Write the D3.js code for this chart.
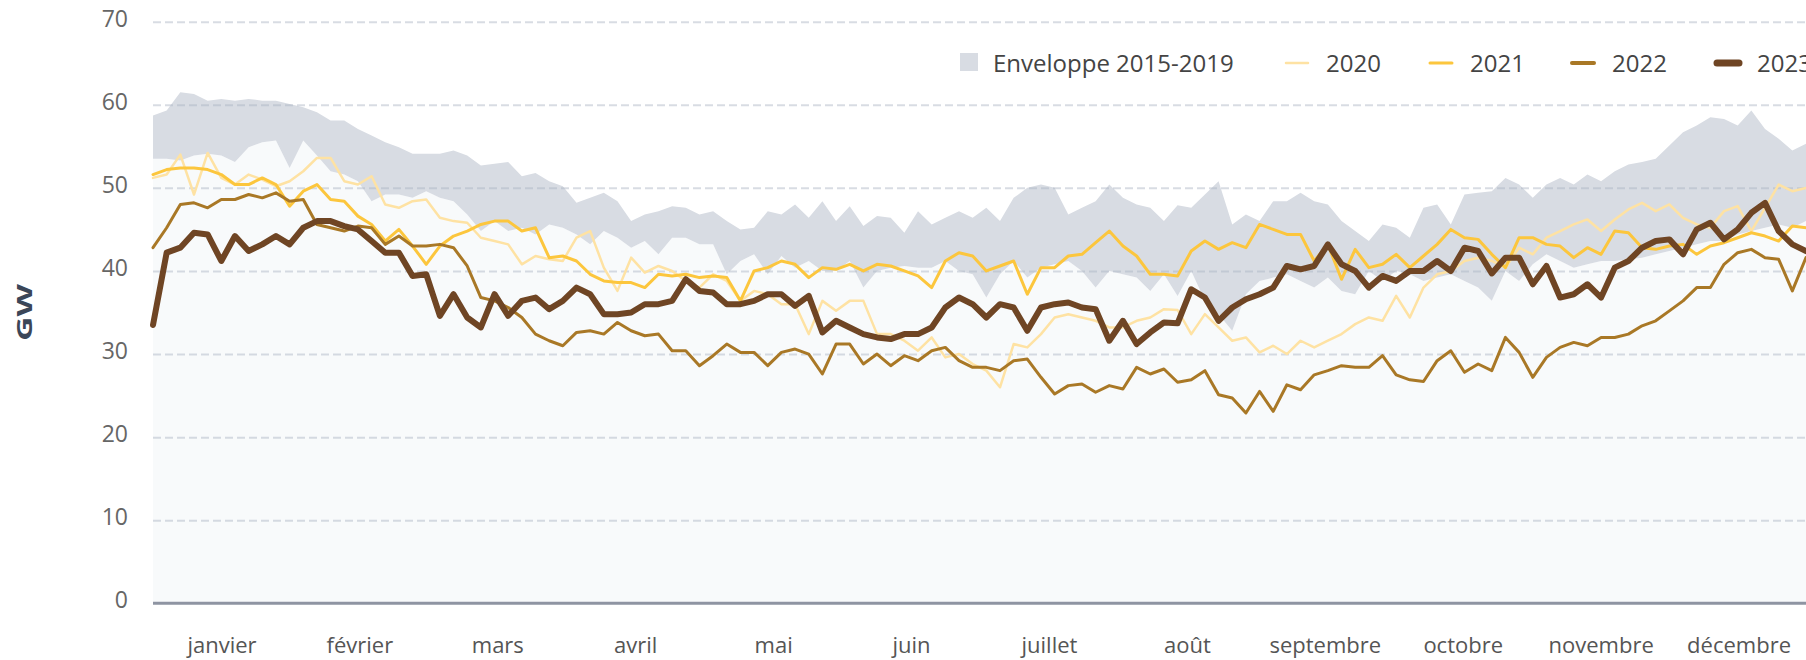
<!DOCTYPE html>
<html>
<head>
<meta charset="utf-8">
<script src="https://cdn.jsdelivr.net/npm/d3@7"></script>
<style>
  body { margin: 0; background: #fff; }
  svg { display: block; font-family: "Open Sans", sans-serif; }
</style>
</head>
<body>
<div id="chart"></div>
<script>
// Mois (axe X) et graduations (axe Y)
const months = ["janvier", "février", "mars", "avril", "mai", "juin",
  "juillet", "août", "septembre", "octobre", "novembre", "décembre"];
const yTicks = [0, 10, 20, 30, 40, 50, 60, 70];

// Une lecture tous les 3 jours (jour 0 = 1er janvier)
const dayStep = 3;

// Enveloppe 2015-2019 : minimum et maximum (GW)
const envMin = [
  53.5, 53.5, 53.3, 53.9, 54.1, 53.9, 53.1, 54.9, 55.5, 55.7,
  52.4, 55.7, 53.9, 52.0, 51.6, 50.8, 48.4, 49.2, 49.2, 48.8,
  49.6, 48.8, 48.4, 46.8, 44.8, 46.0, 44.8, 45.2, 44.4, 45.6,
  45.2, 44.4, 43.2, 44.8, 44.0, 42.8, 43.6, 42.0, 44.0, 44.0,
  43.2, 43.2, 39.6, 41.2, 42.0, 39.6, 41.8, 40.4, 41.2, 40.0,
  40.0, 41.2, 38.0, 40.0, 40.4, 40.6, 40.4, 40.4, 41.2, 40.0,
  39.6, 36.8, 39.6, 41.2, 39.2, 40.4, 40.8, 41.2, 40.0, 38.0,
  40.0, 39.6, 39.2, 37.6, 39.6, 37.0, 40.0, 36.4, 34.8, 32.8,
  37.2, 38.8, 39.2, 39.6, 38.8, 38.0, 39.2, 37.6, 37.2, 40.0,
  38.8, 40.0, 39.6, 38.8, 39.2, 39.6, 38.8, 38.0, 36.4, 40.0,
  38.8, 40.8, 42.0, 41.2, 40.4, 40.8, 41.2, 41.2, 41.4, 41.6,
  42.0, 42.4, 42.8, 43.2, 43.6, 43.6, 44.4, 44.8, 45.2, 45.6,
  45.2, 46.0
];
const envMax = [
  58.7, 59.3, 61.5, 61.3, 60.5, 60.7, 60.5, 60.7, 60.5, 60.5,
  60.1, 59.7, 59.1, 58.1, 58.1, 57.1, 56.3, 55.5, 54.9, 54.1,
  54.1, 54.1, 54.5, 53.9, 52.7, 52.9, 53.1, 51.4, 51.8, 50.8,
  50.2, 48.2, 48.8, 49.4, 48.4, 46.0, 46.8, 47.2, 47.8, 47.6,
  46.8, 47.2, 46.0, 45.0, 45.2, 47.2, 46.8, 48.0, 46.4, 48.4,
  46.0, 47.8, 45.4, 46.6, 46.4, 44.6, 47.2, 45.6, 46.4, 47.2,
  46.4, 47.6, 46.0, 48.8, 50.0, 50.4, 50.0, 46.8, 47.6, 48.4,
  50.4, 48.8, 48.0, 47.6, 46.0, 47.9, 47.6, 49.2, 50.8, 45.6,
  46.8, 46.0, 48.4, 48.4, 49.4, 48.4, 48.0, 46.0, 44.8, 43.6,
  45.6, 45.2, 44.0, 47.6, 48.0, 45.6, 49.2, 49.4, 49.6, 51.2,
  50.4, 48.8, 50.4, 51.2, 50.4, 51.6, 50.8, 52.0, 52.8, 53.1,
  53.5, 55.1, 56.7, 57.5, 58.5, 58.3, 57.5, 59.3, 57.1, 55.9,
  54.5, 55.3
];

// Années
const values2020 = [
  51.2, 51.6, 54.0, 49.2, 54.2, 51.2, 50.4, 51.6, 51.0, 50.2,
  50.8, 52.0, 53.6, 53.6, 50.8, 50.4, 51.4, 48.0, 47.6, 48.4,
  48.6, 46.4, 46.0, 45.8, 44.0, 43.6, 43.2, 40.8, 41.8, 41.4,
  41.2, 44.0, 44.8, 40.4, 37.6, 41.6, 39.8, 40.6, 40.0, 38.8,
  38.0, 39.6, 38.8, 36.4, 37.6, 37.2, 36.0, 36.0, 32.4, 36.4,
  35.2, 36.4, 36.4, 32.4, 32.4, 31.6, 30.4, 32.0, 29.6, 30.0,
  28.8, 28.0, 26.0, 31.2, 30.8, 32.4, 34.4, 34.8, 34.4, 34.0,
  33.2, 33.2, 34.0, 34.4, 35.4, 35.3, 32.4, 34.8, 33.2, 31.6,
  32.0, 30.2, 31.0, 30.0, 31.6, 30.8, 31.6, 32.4, 33.6, 34.4,
  34.0, 37.0, 34.4, 38.0, 39.6, 40.0, 41.2, 41.6, 41.2, 40.4,
  42.8, 42.0, 44.0, 44.8, 45.6, 46.2, 44.8, 46.2, 47.4, 48.2,
  47.2, 48.0, 46.4, 45.6, 45.2, 47.2, 47.8, 44.8, 47.6, 50.4,
  49.6, 50.0
];
const values2021 = [
  51.6, 52.2, 52.4, 52.4, 52.2, 51.6, 50.4, 50.4, 51.2, 50.4,
  47.8, 49.6, 50.4, 48.6, 48.4, 46.6, 45.6, 43.6, 45.0, 43.0,
  40.8, 43.0, 44.2, 44.8, 45.6, 46.0, 46.0, 44.8, 45.2, 41.6,
  41.8, 41.2, 39.6, 38.8, 38.6, 38.6, 38.0, 39.6, 39.4, 39.6,
  39.2, 39.4, 39.2, 36.4, 40.0, 40.4, 41.2, 40.8, 39.2, 40.4,
  40.2, 40.8, 40.0, 40.8, 40.6, 40.0, 39.4, 38.0, 41.2, 42.2,
  41.8, 40.0, 40.6, 41.2, 37.2, 40.4, 40.4, 41.8, 42.0, 43.4,
  44.8, 43.0, 41.8, 39.6, 39.6, 39.4, 42.4, 43.6, 42.6, 43.4,
  42.8, 45.6, 45.0, 44.4, 44.4, 41.2, 43.2, 39.0, 42.6, 40.4,
  40.8, 42.0, 40.4, 41.8, 43.2, 45.0, 44.0, 43.8, 42.0, 40.4,
  44.0, 44.0, 43.2, 43.0, 41.6, 42.8, 42.0, 44.8, 44.6, 42.8,
  42.6, 43.0, 43.2, 42.0, 43.0, 43.4, 44.0, 44.6, 44.2, 43.6,
  45.4, 45.2
];
const values2022 = [
  42.8, 45.2, 48.0, 48.2, 47.6, 48.6, 48.6, 49.2, 48.8, 49.4,
  48.4, 48.6, 45.6, 45.2, 44.8, 45.4, 45.2, 43.2, 44.2, 43.0,
  43.0, 43.2, 42.8, 40.6, 36.8, 36.4, 35.6, 34.4, 32.4, 31.6,
  31.0, 32.6, 32.8, 32.4, 33.8, 32.8, 32.2, 32.4, 30.4, 30.4,
  28.6, 29.8, 31.2, 30.2, 30.2, 28.6, 30.2, 30.6, 30.0, 27.6,
  31.2, 31.2, 28.8, 30.0, 28.6, 29.8, 29.2, 30.4, 30.8, 29.2,
  28.4, 28.4, 28.0, 29.2, 29.4, 27.2, 25.2, 26.2, 26.4, 25.4,
  26.2, 25.8, 28.4, 27.6, 28.2, 26.6, 26.9, 28.0, 25.1, 24.7,
  22.9, 25.5, 23.1, 26.3, 25.7, 27.5, 28.0, 28.6, 28.4, 28.4,
  29.8, 27.5, 26.9, 26.7, 29.2, 30.4, 27.8, 28.8, 28.0, 32.0,
  30.2, 27.2, 29.6, 30.8, 31.4, 31.0, 32.0, 32.0, 32.4, 33.4,
  34.0, 35.2, 36.4, 38.0, 38.0, 40.8, 42.2, 42.6, 41.6, 41.4,
  37.6, 41.6
];
const values2023 = [
  33.5, 42.2, 42.8, 44.6, 44.4, 41.2, 44.2, 42.4, 43.2, 44.2,
  43.2, 45.2, 46.0, 46.0, 45.4, 45.0, 43.6, 42.2, 42.2, 39.4,
  39.6, 34.6, 37.2, 34.4, 33.2, 37.2, 34.6, 36.4, 36.8, 35.4,
  36.4, 38.0, 37.2, 34.8, 34.8, 35.0, 36.0, 36.0, 36.4, 39.0,
  37.6, 37.4, 36.0, 36.0, 36.4, 37.2, 37.2, 35.8, 37.0, 32.6,
  34.0, 33.2, 32.4, 32.0, 31.8, 32.4, 32.4, 33.2, 35.6, 36.8,
  36.0, 34.4, 36.0, 35.6, 32.8, 35.6, 36.0, 36.2, 35.6, 35.4,
  31.6, 34.0, 31.2, 32.6, 33.8, 33.7, 37.8, 36.8, 34.0, 35.6,
  36.6, 37.2, 38.0, 40.6, 40.2, 40.6, 43.2, 40.8, 40.0, 38.0,
  39.4, 38.8, 40.0, 40.0, 41.2, 40.0, 42.8, 42.4, 39.7, 41.6,
  41.6, 38.4, 40.6, 36.8, 37.2, 38.4, 36.8, 40.4, 41.2, 42.8,
  43.6, 43.8, 42.0, 45.0, 45.8, 43.8, 45.0, 47.0, 48.2, 44.8,
  43.2, 42.4
];

const series = [
  { name: "2020", values: values2020, color: "#fee2a3", width: 2.5, legendWidth: 2.5 },
  { name: "2021", values: values2021, color: "#fcc63d", width: 3, legendWidth: 3 },
  { name: "2022", values: values2022, color: "#a97826", width: 3, legendWidth: 4 },
  { name: "2023", values: values2023, color: "#6f4524", width: 6, legendWidth: 7 }
];

// Dimensions
const width = 1806, height = 660;
const margin = { top: 21.7, right: 0, bottom: 56.7, left: 153 };
const plotRight = width;
const monthsRight = 1808;

const svg = d3.select("#chart").append("svg")
  .attr("width", width)
  .attr("height", height);

// Échelles
const x = d3.scaleLinear()
  .domain([0, 363])
  .range([margin.left, plotRight]);

const xMonths = d3.scaleBand()
  .domain(months)
  .range([margin.left, monthsRight]);

const y = d3.scaleLinear()
  .domain([0, 70])
  .range([height - margin.bottom, margin.top]);

const envData = envMin.map((v, i) => ({ day: i * dayStep, min: v, max: envMax[i] }));

// Zone sous l'enveloppe (fond très clair)
svg.append("path")
  .datum(envData)
  .attr("fill", "#f8fafb")
  .attr("d", d3.area()
    .x(d => x(d.day))
    .y0(y(0))
    .y1(d => y(d.min)));

// Enveloppe 2015-2019
svg.append("path")
  .datum(envData)
  .attr("fill", "#d8dce3")
  .attr("d", d3.area()
    .x(d => x(d.day))
    .y0(d => y(d.min))
    .y1(d => y(d.max)));

// Grille horizontale
const grid = svg.append("g")
  .attr("transform", "translate(" + margin.left + ",0)")
  .call(d3.axisRight(y).tickValues(yTicks.slice(1)).tickSize(plotRight - margin.left).tickFormat(""));
grid.select(".domain").remove();
grid.selectAll("line")
  .attr("stroke", "#a9b1c0")
  .attr("stroke-opacity", 0.45)
  .attr("stroke-width", 2)
  .attr("stroke-dasharray", "8,4");

// Axe Y (libellés)
const yAxis = svg.append("g")
  .attr("transform", "translate(" + margin.left + ",0)")
  .call(d3.axisLeft(y).tickValues(yTicks).tickSize(0).tickPadding(25));
yAxis.select(".domain").remove();
yAxis.selectAll("text")
  .attr("dy", "0.2em")
  .style("font-size", "23px")
  .style("font-family", "'Open Sans', sans-serif")
  .attr("fill", "#666");

// Axe X (mois)
const xAxis = svg.append("g")
  .attr("transform", "translate(0," + y(0) + ")")
  .call(d3.axisBottom(xMonths).tickSize(0).tickPadding(34));
xAxis.select(".domain").remove();
xAxis.selectAll("text")
  .style("font-size", "22px")
  .style("font-family", "'Open Sans', sans-serif")
  .attr("fill", "#555");

// Ligne du zéro
svg.append("line")
  .attr("x1", margin.left)
  .attr("x2", plotRight)
  .attr("y1", y(0))
  .attr("y2", y(0))
  .attr("stroke", "#8e94a2")
  .attr("stroke-width", 3);

// Courbes annuelles
const line = d3.line()
  .x((d, i) => x(i * dayStep))
  .y(d => y(d));

series.forEach(s => {
  svg.append("path")
    .datum(s.values)
    .attr("fill", "none")
    .attr("stroke", s.color)
    .attr("stroke-width", s.width)
    .attr("stroke-linejoin", "round")
    .attr("stroke-linecap", "round")
    .attr("d", line);
});

// Titre de l'axe Y (lettres étirées comme sur l'original)
svg.append("text")
  .attr("transform", "translate(31.5,312.5) rotate(-90) scale(1.6,1)")
  .attr("text-anchor", "middle")
  .attr("fill", "#3b4658")
  .style("font-size", "21px")
  .style("font-weight", "bold")
  .text("GW");

// Légende
const legendX = [960, 1284, 1428, 1570, 1715];
const legend = svg.append("g");
const legendItems = [{ name: "Enveloppe 2015-2019", area: true }].concat(series);
legendItems.forEach((item, i) => {
  const g = legend.append("g").attr("transform", "translate(" + legendX[i] + ",0)");
  let symbolW;
  if (item.area) {
    symbolW = 18;
    g.append("rect")
      .attr("x", 0).attr("y", 53)
      .attr("width", 18).attr("height", 18)
      .attr("fill", "#d8dce3");
  } else {
    symbolW = 26;
    g.append("line")
      .attr("x1", 2).attr("x2", symbolW - 2)
      .attr("y1", 63).attr("y2", 63)
      .attr("stroke", item.color)
      .attr("stroke-width", item.legendWidth)
      .attr("stroke-linecap", "round");
  }
  g.append("text")
    .attr("x", item.area ? 33 : 42)
    .attr("y", 72)
    .attr("fill", "#444")
    .style("font-size", "24px")
    .text(item.name);
});
</script>
</body>
</html>
